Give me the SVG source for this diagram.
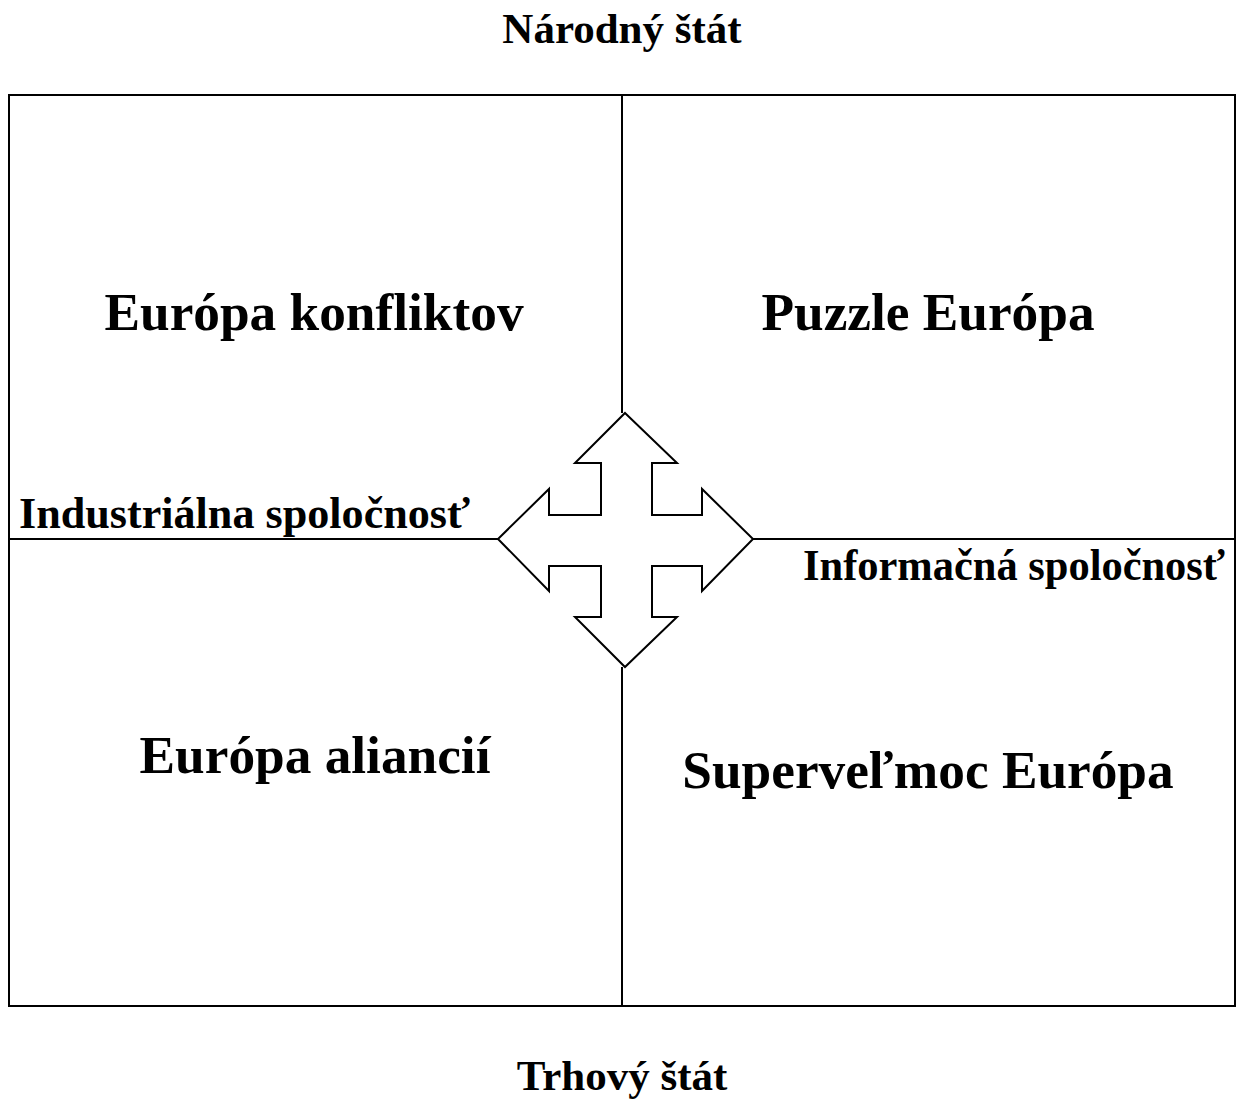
<svg xmlns="http://www.w3.org/2000/svg" width="1240" height="1100" viewBox="0 0 1240 1100">
<style>
text{font-family:"Liberation Serif","Times New Roman",serif;font-weight:bold;fill:#000}
.t{font-size:53.3px;text-anchor:middle}
.l{font-size:43.5px}
.a{font-size:43px;text-anchor:middle}
.ln{stroke:#000;stroke-width:2;fill:none}
</style>
<rect width="1240" height="1100" fill="#fff"/>
<g id="connectors">
<rect class="ln" x="9" y="95" width="1226" height="911"/>
<line class="ln" x1="622" y1="95" x2="622" y2="413"/>
<line class="ln" x1="622" y1="667" x2="622" y2="1006"/>
<line class="ln" x1="9" y1="539" x2="498" y2="539"/>
<line class="ln" x1="753" y1="539" x2="1235" y2="539"/>
</g>
<g id="arrow">
<polygon class="ln" fill="#fff" points="625,413 677,463 652,463 652,515 702,515 702,489 753,539 702,591 702,566 652,566 652,617 677,617 625,667 575,617 601,617 601,566 549,566 549,591 498,539 549,489 549,515 601,515 601,463 575,463"/>
</g>
<g id="top"><text class="a" x="622" y="43">Národný štát</text></g>
<g id="bottom"><text class="a" x="622" y="1090">Trhový štát</text></g>
<g id="q1"><text class="t" x="314" y="330">Európa konfliktov</text></g>
<g id="q2"><text class="t" x="928" y="330">Puzzle Európa</text></g>
<g id="q3"><text class="t" x="315" y="773">Európa aliancií</text></g>
<g id="q4"><text class="t" x="928" y="788">Superveľmoc Európa</text></g>
<g id="left"><text class="l" x="19" y="528" textLength="451" lengthAdjust="spacingAndGlyphs">Industriálna spoločnosť</text></g>
<g id="right"><text class="l" x="803" y="580" textLength="422" lengthAdjust="spacingAndGlyphs">Informačná spoločnosť</text></g>
</svg>
